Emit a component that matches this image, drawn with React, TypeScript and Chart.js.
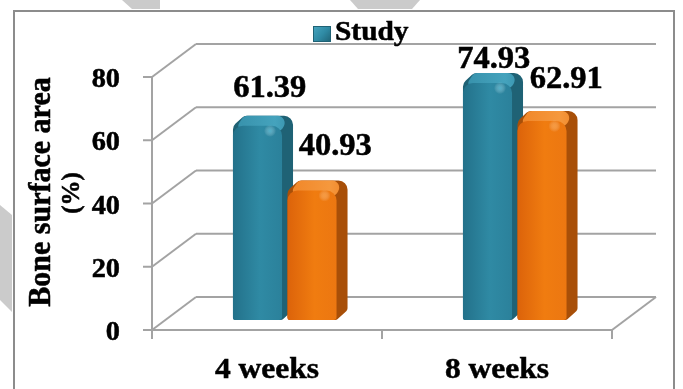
import React, { useEffect, useRef } from "react";
import { Chart, registerables } from "chart.js";

Chart.register(...registerables);

// ---------- data ----------
const categories = ["4 weeks", "8 weeks"];
const seriesNames = ["Study", "Control"];
const studyValues = [61.39, 74.93];
const controlValues = [40.93, 62.91];
const yTicks = [0, 20, 40, 60, 80];
const legendShown = ["Study"];
const axisTitleLines = ["Bone surface area", "(%)"];

// ---------- style ----------
const FONT = '"Liberation Serif", "Times New Roman", serif';
const SX = 1.05; // slight horizontal text stretch seen in reference
const GRID = "#a3a3a3";
const DEPTH_X = 44;
const DEPTH_Y = -33;
const BAR_SHIFT_X = 17.75;
const BAR_SHIFT_Y = -10;
const BOX_DX = 11;
const BOX_DY = -10;
const FACE_RATIO = 0.9;

const palettes = [
  { frontL: "#23718a", frontM: "#2f8aa4", frontR: "#2b819b", top: "#3690aa", topHi: "#45a3bd", side: "#1f6275", hi: "rgba(110,210,235,0.55)" },
  { frontL: "#dc630a", frontM: "#f07c10", frontR: "#ec7711", top: "#f08527", topHi: "#f5983d", side: "#a84f08", hi: "rgba(255,185,110,0.5)" },
];
// label nudges relative to the bar value point (style only)
const labelNudge = [
  [[30, -39], [24, -25]],
  [[41, -46], [42, -43]],
];

function sText(ctx: CanvasRenderingContext2D, text: string, x: number, y: number, size: number, align: CanvasTextAlign) {
  ctx.save();
  ctx.font = `bold ${size}px ${FONT}`;
  ctx.textAlign = align;
  ctx.textBaseline = "alphabetic";
  ctx.fillStyle = "#000";
  ctx.strokeStyle = "#000";
  ctx.lineWidth = 0.5;
  ctx.translate(x, y);
  ctx.scale(SX, 1);
  ctx.fillText(text, 0, 0);
  ctx.strokeText(text, 0, 0);
  ctx.restore();
}

function line(ctx: CanvasRenderingContext2D, x1: number, y1: number, x2: number, y2: number) {
  ctx.beginPath();
  ctx.moveTo(x1, y1);
  ctx.lineTo(x2, y2);
  ctx.stroke();
}

function roundedPoly(ctx: CanvasRenderingContext2D, pts: number[][], radii: number[]) {
  const n = pts.length;
  ctx.beginPath();
  const mx = (pts[n - 1][0] + pts[0][0]) / 2;
  const my = (pts[n - 1][1] + pts[0][1]) / 2;
  ctx.moveTo(mx, my);
  for (let i = 0; i < n; i++) {
    const p = pts[i];
    const q = pts[(i + 1) % n];
    ctx.arcTo(p[0], p[1], q[0], q[1], radii[i]);
  }
  ctx.closePath();
}

const framePlugin = {
  id: "frame3d",
  beforeDatasetsDraw(chart: any) {
    const ctx: CanvasRenderingContext2D = chart.ctx;
    const ys = chart.scales.y;
    const ca = chart.chartArea;
    ctx.save();
    // watermark fragments outside the border
    ctx.fillStyle = "#cbcbcb";
    ctx.beginPath();
    ctx.moveTo(0, 205); ctx.lineTo(12, 215); ctx.lineTo(12, 312); ctx.lineTo(0, 300); ctx.closePath(); ctx.fill();
    ctx.beginPath();
    ctx.moveTo(122, 0); ctx.lineTo(160, 0); ctx.lineTo(160, 9); ctx.lineTo(132, 9); ctx.closePath(); ctx.fill();
    ctx.beginPath();
    ctx.moveTo(350, 0); ctx.lineTo(420, 0); ctx.lineTo(412, 9); ctx.lineTo(358, 9); ctx.closePath(); ctx.fill();
    // outer border
    ctx.strokeStyle = "#8c8c8c";
    ctx.lineWidth = 2;
    ctx.strokeRect(14, 11, 660, 390);

    ctx.strokeStyle = GRID;
    ctx.lineWidth = 2;
    for (const v of yTicks) {
      const fy = ys.getPixelForValue(v);
      line(ctx, ca.left + DEPTH_X, fy + DEPTH_Y, ca.right + DEPTH_X, fy + DEPTH_Y);
      line(ctx, ca.left, fy, ca.left + DEPTH_X, fy + DEPTH_Y);
      line(ctx, ca.left - 9, fy, ca.left, fy);
    }
    line(ctx, ca.left, ca.top, ca.left, ca.bottom);
    line(ctx, ca.left, ca.bottom, ca.right, ca.bottom);
    line(ctx, ca.right, ca.bottom, ca.right + DEPTH_X, ca.bottom + DEPTH_Y);
    const mid = (ca.left + ca.right) / 2;
    for (const tx of [ca.left, mid, ca.right]) line(ctx, tx, ca.bottom, tx, ca.bottom + 9);
    ctx.restore();
  },
  afterDatasetsDraw(chart: any) {
    const ctx: CanvasRenderingContext2D = chart.ctx;
    ctx.save();
    chart.data.datasets.forEach((_ds: any, i: number) => {
      const meta = chart.getDatasetMeta(i);
      const pal = palettes[i];
      meta.data.forEach((el: any) => {
        const p = el.getProps(["x", "y", "base", "width"], true);
        const fw = p.width * FACE_RATIO;
        const L = p.x - fw / 2 + BAR_SHIFT_X;
        const R = L + fw;
        const top = p.y + BAR_SHIFT_Y;
        const bot = p.base + BAR_SHIFT_Y;
        // silhouette (side colour)
        roundedPoly(
          ctx,
          [[L, bot], [L, top], [L + BOX_DX, top + BOX_DY], [R + BOX_DX, top + BOX_DY], [R + BOX_DX, bot + BOX_DY], [R, bot]],
          [2, 8, 7, 9, 4, 3]
        );
        ctx.fillStyle = pal.side;
        ctx.fill();
        // top face
        roundedPoly(
          ctx,
          [[L + 1, top + 5], [L + BOX_DX, top + BOX_DY], [R + BOX_DX - 3, top + BOX_DY], [R - 1, top + 5]],
          [5, 7, 7, 5]
        );
        const tg = ctx.createLinearGradient(L, 0, R + BOX_DX, 0);
        tg.addColorStop(0, pal.top);
        tg.addColorStop(0.7, pal.topHi);
        tg.addColorStop(1, pal.top);
        ctx.fillStyle = tg;
        ctx.fill();
        // front face
        const fg = ctx.createLinearGradient(L, 0, R, 0);
        fg.addColorStop(0, pal.frontL);
        fg.addColorStop(0.55, pal.frontM);
        fg.addColorStop(1, pal.frontR);
        ctx.beginPath();
        ctx.roundRect(L, top, fw, bot - top, [10, 10, 3, 3]);
        ctx.fillStyle = fg;
        ctx.fill();
        // subtle highlight
        const hx = R - 12;
        const hy = top + 5;
        const rg = ctx.createRadialGradient(hx, hy, 0, hx, hy, 6);
        rg.addColorStop(0, pal.hi);
        rg.addColorStop(1, "rgba(255,255,255,0)");
        ctx.fillStyle = rg;
        ctx.fillRect(hx - 7, hy - 7, 14, 14);
      });
    });
    ctx.restore();
  },
  afterDraw(chart: any) {
    const ctx: CanvasRenderingContext2D = chart.ctx;
    const ys = chart.scales.y;
    const xs = chart.scales.x;
    // y tick labels
    for (const v of yTicks) sText(ctx, String(v), 120, ys.getPixelForValue(v) + 10, 27, "right");
    // category labels
    categories.forEach((c, j) => sText(ctx, c, xs.getPixelForValue(j), 378, 30, "center"));
    // data labels
    chart.data.datasets.forEach((ds: any, i: number) => {
      const meta = chart.getDatasetMeta(i);
      meta.data.forEach((el: any, j: number) => {
        const p = el.getProps(["x", "y"], true);
        const nd = labelNudge[i][j];
        sText(ctx, ds.data[j].toFixed(2), p.x + nd[0], p.y + nd[1], 31, "center");
      });
    });
    // legend
    legendShown.forEach((name) => {
      const idx = seriesNames.indexOf(name);
      const pal = palettes[idx];
      const g = ctx.createLinearGradient(314, 27, 331, 42);
      g.addColorStop(0, pal.topHi);
      g.addColorStop(0.5, pal.frontM);
      g.addColorStop(1, pal.side);
      ctx.fillStyle = g;
      ctx.fillRect(313, 26, 18, 16);
      ctx.strokeStyle = pal.side;
      ctx.lineWidth = 1;
      ctx.strokeRect(313.5, 26.5, 17, 15);
      sText(ctx, name, 335, 40, 28, "left");
    });
    // axis title (rotated)
    const cy = 192;
    ctx.save();
    ctx.fillStyle = "#000";
    ctx.strokeStyle = "#000";
    ctx.lineWidth = 0.5;
    ctx.textAlign = "center";
    ctx.textBaseline = "alphabetic";
    ctx.translate(50, cy);
    ctx.rotate(-Math.PI / 2);
    ctx.scale(1, SX);
    ctx.font = `bold 30px ${FONT}`;
    ctx.fillText(axisTitleLines[0], 0, 0);
    ctx.strokeText(axisTitleLines[0], 0, 0);
    ctx.restore();
    ctx.save();
    ctx.fillStyle = "#000";
    ctx.strokeStyle = "#000";
    ctx.lineWidth = 0.5;
    ctx.textAlign = "center";
    ctx.textBaseline = "alphabetic";
    ctx.translate(79, cy + 1);
    ctx.rotate(-Math.PI / 2);
    ctx.scale(1, SX);
    ctx.font = `bold 25px ${FONT}`;
    ctx.fillText(axisTitleLines[1], 0, 0);
    ctx.strokeText(axisTitleLines[1], 0, 0);
    ctx.restore();
  },
};

export default function App() {
  const ref = useRef<HTMLCanvasElement | null>(null);
  useEffect(() => {
    if (!ref.current) return;
    const chart = new Chart(ref.current, {
      type: "bar",
      data: {
        labels: categories,
        datasets: [
          { label: seriesNames[0], data: studyValues, backgroundColor: "rgba(0,0,0,0)", categoryPercentage: 0.474, barPercentage: 1 },
          { label: seriesNames[1], data: controlValues, backgroundColor: "rgba(0,0,0,0)", categoryPercentage: 0.474, barPercentage: 1 },
        ],
      },
      options: {
        responsive: false,
        animation: false,
        layout: { padding: { left: 152, right: 71, top: 77, bottom: 59 } },
        plugins: { legend: { display: false }, tooltip: { enabled: false } },
        scales: {
          x: { display: false, offset: true },
          y: { display: false, min: 0, max: 80 },
        },
      },
      plugins: [framePlugin],
    });
    return () => chart.destroy();
  }, []);
  return (
    <div style={{ position: "absolute", left: 0, top: 0, width: 683, height: 389, background: "#fff" }}>
      <canvas ref={ref} width={683} height={389} style={{ display: "block" }} />
    </div>
  );
}
